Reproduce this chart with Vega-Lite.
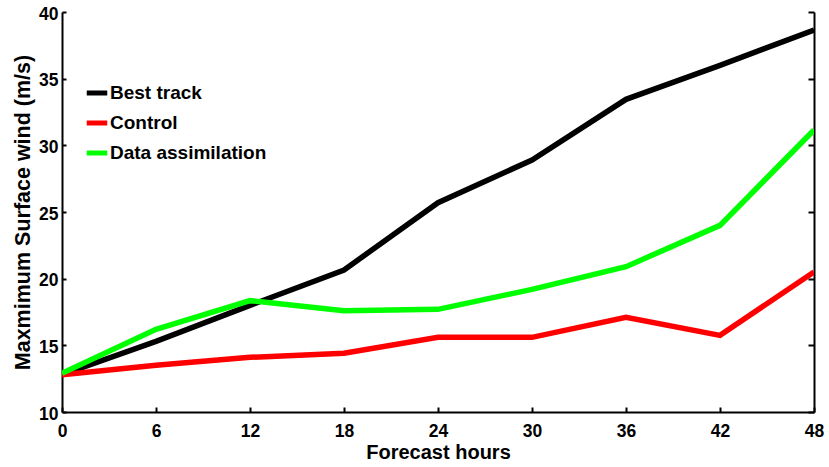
{
  "$schema": "https://vega.github.io/schema/vega-lite/v6.json",
  "width": 752,
  "height": 400,
  "autosize": {"type": "none"},
  "padding": {"left": 62, "top": 12, "right": 15, "bottom": 55},
  "background": "white",
  "config": {
    "view": {"stroke": null},
    "font": "Liberation Sans",
    "axis": {
      "domainColor": "black",
      "domainWidth": 2,
      "tickColor": "black",
      "tickWidth": 2,
      "labelFont": "Liberation Sans",
      "labelFontWeight": "bold",
      "labelFontSize": 17.5,
      "labelColor": "black",
      "titleFont": "Liberation Sans",
      "titleFontWeight": "bold",
      "titleFontSize": 20,
      "titleColor": "black",
      "grid": false
    }
  },
  "data": {
    "values": [
      {"h": 0, "v": 12.8, "s": "Best track"},
      {"h": 6, "v": 15.3, "s": "Best track"},
      {"h": 12, "v": 18.0, "s": "Best track"},
      {"h": 18, "v": 20.65, "s": "Best track"},
      {"h": 24, "v": 25.7, "s": "Best track"},
      {"h": 30, "v": 28.9, "s": "Best track"},
      {"h": 36, "v": 33.45, "s": "Best track"},
      {"h": 42, "v": 36.0, "s": "Best track"},
      {"h": 48, "v": 38.65, "s": "Best track"},
      {"h": 0, "v": 12.8, "s": "Control"},
      {"h": 6, "v": 13.5, "s": "Control"},
      {"h": 12, "v": 14.1, "s": "Control"},
      {"h": 18, "v": 14.4, "s": "Control"},
      {"h": 24, "v": 15.6, "s": "Control"},
      {"h": 30, "v": 15.6, "s": "Control"},
      {"h": 36, "v": 17.1, "s": "Control"},
      {"h": 42, "v": 15.75, "s": "Control"},
      {"h": 48, "v": 20.5, "s": "Control"},
      {"h": 0, "v": 12.9, "s": "Data assimilation"},
      {"h": 6, "v": 16.2, "s": "Data assimilation"},
      {"h": 12, "v": 18.35, "s": "Data assimilation"},
      {"h": 18, "v": 17.6, "s": "Data assimilation"},
      {"h": 24, "v": 17.7, "s": "Data assimilation"},
      {"h": 30, "v": 19.2, "s": "Data assimilation"},
      {"h": 36, "v": 20.9, "s": "Data assimilation"},
      {"h": 42, "v": 24.0, "s": "Data assimilation"},
      {"h": 48, "v": 31.15, "s": "Data assimilation"}
    ]
  },
  "layer": [
    {
      "mark": {"type": "line", "strokeWidth": 5.5, "clip": true},
      "encoding": {
        "x": {
          "field": "h", "type": "quantitative",
          "scale": {"domain": [0, 48], "nice": false},
          "axis": {"values": [0, 6, 12, 18, 24, 30, 36, 42, 48], "title": "Forecast hours", "tickSize": -5, "labelPadding": 15, "titlePadding": 3, "labelFlush": false}
        },
        "y": {
          "field": "v", "type": "quantitative",
          "scale": {"domain": [10, 40], "nice": false, "zero": false},
          "axis": {"values": [10, 15, 20, 25, 30, 35, 40], "title": "Maxmimum Surface wind (m/s)", "titleFontSize": 21.5, "tickSize": -4, "labelPadding": 8, "titlePadding": 4, "labelBaseline": "middle", "labelOffset": 2}
        },
        "color": {
          "field": "s", "type": "nominal",
          "scale": {"domain": ["Best track", "Control", "Data assimilation"], "range": ["#000000", "#ff0000", "#00ff00"]},
          "legend": {
            "title": null,
            "orient": "none",
            "legendX": 22,
            "legendY": 68,
            "symbolType": "stroke",
            "symbolStrokeWidth": 5,
            "symbolSize": 420,
            "labelFont": "Liberation Sans",
            "labelFontWeight": "bold",
            "labelFontSize": 19,
            "labelColor": "black",
            "labelOffset": 0,
            "rowPadding": 7
          }
        }
      }
    },
    {
      "mark": {"type": "line", "opacity": 0},
      "encoding": {
        "x": {"field": "h", "type": "quantitative"},
        "y": {
          "field": "v", "type": "quantitative",
          "axis": {"orient": "right", "values": [10, 15, 20, 25, 30, 35, 40], "labels": false, "title": null, "tickSize": -6}
        }
      }
    }
  ],
  "resolve": {"axis": {"y": "independent"}}
}
